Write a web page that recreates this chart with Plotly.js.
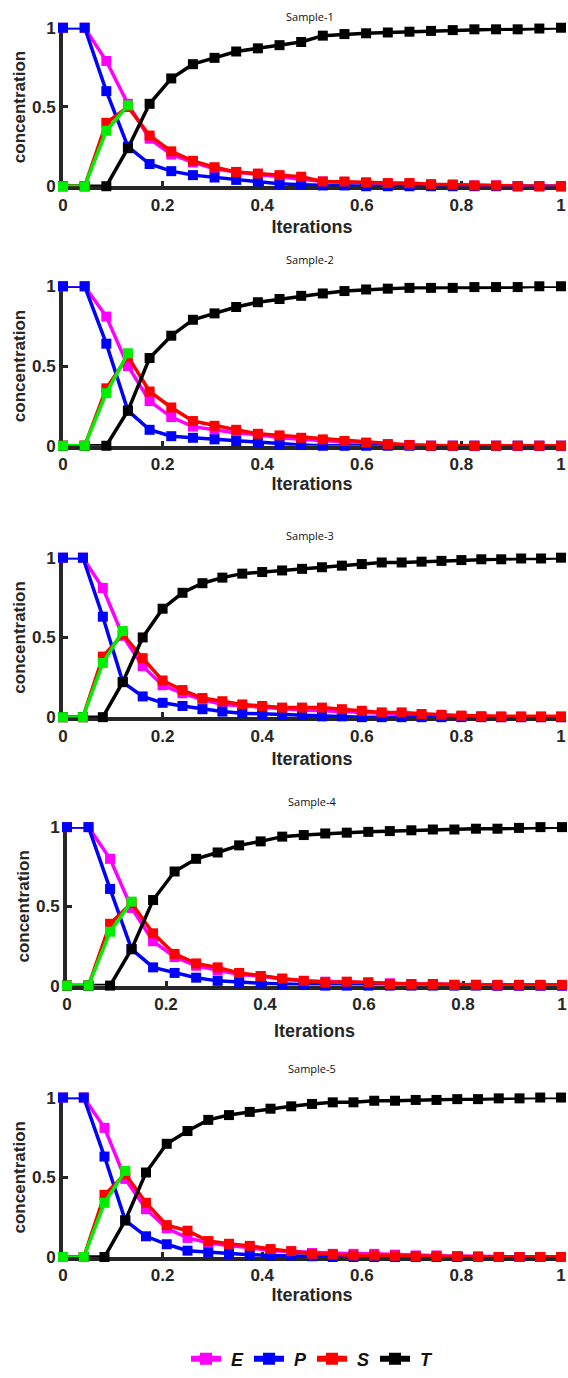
<!DOCTYPE html>
<html>
<head>
<meta charset="utf-8">
<script src="https://cdn.plot.ly/plotly-3.0.1.min.js"></script>
<style>
  html, body { margin: 0; padding: 0; background: #ffffff; }
  #chart { width: 568px; height: 1378px; }
</style>
</head>
<body>
<div id="chart"></div>
<script>
// Normalised iteration positions (runs with 24, 25 and 26 recorded steps)
const iter24 = [0, 0.0435, 0.0870, 0.1304, 0.1739, 0.2174, 0.2609, 0.3043, 0.3478, 0.3913, 0.4348, 0.4783,
                0.5217, 0.5652, 0.6087, 0.6522, 0.6957, 0.7391, 0.7826, 0.8261, 0.8696, 0.9130, 0.9565, 1];
const iter25 = [0, 0.0417, 0.0833, 0.125, 0.1667, 0.2083, 0.25, 0.2917, 0.3333, 0.375, 0.4167, 0.4583,
                0.5, 0.5417, 0.5833, 0.625, 0.6667, 0.7083, 0.75, 0.7917, 0.8333, 0.875, 0.9167, 0.9583, 1];
const iter26 = [0, 0.04, 0.08, 0.12, 0.16, 0.2, 0.24, 0.28, 0.32, 0.36, 0.4, 0.44, 0.48,
                0.52, 0.56, 0.6, 0.64, 0.68, 0.72, 0.76, 0.8, 0.84, 0.88, 0.92, 0.96, 1];

// Sample-1
const E1 = [1, 1, 0.79, 0.52, 0.30, 0.20, 0.15, 0.11, 0.09, 0.075, 0.06, 0.05, 0.03, 0.025, 0.02, 0.015, 0.015, 0.01, 0.01, 0.005, 0.005, 0, 0, 0];
const P1 = [1, 1, 0.60, 0.25, 0.14, 0.095, 0.07, 0.055, 0.04, 0.03, 0.015, 0.01, 0.005, 0.005, 0, 0, 0, 0, 0, 0, 0, 0, 0, 0];
const S1 = [0, 0, 0.40, 0.50, 0.32, 0.22, 0.16, 0.12, 0.09, 0.08, 0.07, 0.06, 0.03, 0.03, 0.025, 0.02, 0.02, 0.013, 0.01, 0.005, 0.005, 0, 0, 0];
const T1 = [0, 0, 0, 0.24, 0.52, 0.68, 0.77, 0.81, 0.85, 0.87, 0.89, 0.91, 0.95, 0.96, 0.965, 0.97, 0.975, 0.98, 0.985, 0.99, 0.99, 0.99, 0.995, 1];
const G1 = [0, 0, 0.35, 0.51];

// Sample-2
const E2 = [1, 1, 0.81, 0.50, 0.28, 0.18, 0.12, 0.10, 0.08, 0.07, 0.05, 0.04, 0.03, 0.02, 0.015, 0.01, 0.005, 0, 0, 0, 0, 0, 0, 0];
const P2 = [1, 1, 0.64, 0.22, 0.10, 0.06, 0.05, 0.04, 0.03, 0.02, 0.01, 0.005, 0, 0, 0, 0, 0, 0, 0, 0, 0, 0, 0, 0];
const S2 = [0, 0, 0.36, 0.56, 0.34, 0.24, 0.155, 0.125, 0.10, 0.075, 0.065, 0.05, 0.04, 0.03, 0.02, 0.01, 0.005, 0, 0, 0, 0, 0, 0, 0];
const T2 = [0, 0, 0, 0.22, 0.55, 0.69, 0.79, 0.83, 0.87, 0.90, 0.92, 0.94, 0.955, 0.97, 0.98, 0.985, 0.99, 0.99, 0.99, 0.995, 0.995, 0.995, 1, 1];
const G2 = [0, 0, 0.33, 0.58];

// Sample-3
const E3 = [1, 1, 0.81, 0.51, 0.32, 0.20, 0.15, 0.11, 0.08, 0.07, 0.06, 0.05, 0.045, 0.04, 0.035, 0.03, 0.02, 0.015, 0.01, 0.01, 0.005, 0.005, 0, 0, 0, 0];
const P3 = [1, 1, 0.63, 0.22, 0.13, 0.09, 0.07, 0.05, 0.035, 0.025, 0.02, 0.015, 0.015, 0.005, 0.005, 0, 0, 0, 0, 0, 0, 0, 0, 0, 0, 0];
const S3 = [0, 0, 0.38, 0.52, 0.37, 0.23, 0.17, 0.12, 0.10, 0.08, 0.07, 0.06, 0.06, 0.06, 0.05, 0.04, 0.03, 0.03, 0.02, 0.015, 0.01, 0.005, 0.005, 0.005, 0.005, 0.005];
const T3 = [0, 0, 0, 0.22, 0.50, 0.68, 0.78, 0.84, 0.875, 0.90, 0.91, 0.92, 0.93, 0.94, 0.95, 0.96, 0.97, 0.97, 0.975, 0.98, 0.985, 0.99, 0.99, 0.995, 0.995, 1];
const G3 = [0, 0, 0.34, 0.54];

// Sample-4
const E4 = [1, 1, 0.80, 0.49, 0.28, 0.18, 0.125, 0.095, 0.07, 0.06, 0.04, 0.03, 0.025, 0.02, 0.02, 0.015, 0.01, 0.01, 0.005, 0.005, 0, 0, 0, 0];
const P4 = [1, 1, 0.61, 0.23, 0.115, 0.08, 0.05, 0.03, 0.02, 0.015, 0.01, 0.005, 0, 0, 0, 0, 0, 0, 0, 0, 0, 0, 0, 0];
const S4 = [0, 0, 0.39, 0.52, 0.33, 0.20, 0.14, 0.115, 0.08, 0.06, 0.045, 0.03, 0.02, 0.025, 0.02, 0.01, 0.01, 0.01, 0.005, 0.005, 0.005, 0.005, 0.005, 0.005];
const T4 = [0, 0, 0, 0.23, 0.54, 0.72, 0.80, 0.84, 0.885, 0.91, 0.94, 0.95, 0.96, 0.965, 0.97, 0.975, 0.98, 0.985, 0.985, 0.99, 0.99, 0.995, 1, 1];
const G4 = [0, 0, 0.34, 0.53];

// Sample-5
const E5 = [1, 1, 0.81, 0.49, 0.30, 0.18, 0.12, 0.09, 0.07, 0.06, 0.04, 0.035, 0.025, 0.02, 0.02, 0.02, 0.015, 0.01, 0.01, 0.005, 0.005, 0, 0, 0, 0];
const P5 = [1, 1, 0.63, 0.23, 0.13, 0.08, 0.04, 0.03, 0.02, 0.015, 0.01, 0.01, 0.005, 0, 0, 0, 0, 0, 0, 0, 0, 0, 0, 0, 0];
const S5 = [0, 0, 0.39, 0.52, 0.34, 0.20, 0.165, 0.10, 0.083, 0.07, 0.05, 0.037, 0.02, 0.017, 0.01, 0.01, 0.008, 0.005, 0.005, 0.005, 0, 0, 0, 0, 0];
const T5 = [0, 0, 0, 0.23, 0.53, 0.71, 0.79, 0.86, 0.89, 0.91, 0.93, 0.945, 0.96, 0.97, 0.97, 0.98, 0.98, 0.985, 0.985, 0.99, 0.99, 0.995, 0.995, 1, 1];
const G5 = [0, 0, 0.34, 0.54];

const sampleTitles = ['Sample-1', 'Sample-2', 'Sample-3', 'Sample-4', 'Sample-5'];
const seriesNames = ['E', 'P', 'S', 'T'];
const xTickVals = [0, 0.2, 0.4, 0.6, 0.8, 1];
const xTickText = ['0', '0.2', '0.4', '0.6', '0.8', '1'];
const yTickVals = [0, 0.5, 1];
const yTickText = ['0', '0.5', '1'];

const samples = [
  { x: iter24, E: E1, P: P1, S: S1, T: T1, G: G1 },
  { x: iter24, E: E2, P: P2, S: S2, T: T2, G: G2 },
  { x: iter26, E: E3, P: P3, S: S3, T: T3, G: G3 },
  { x: iter24, E: E4, P: P4, S: S4, T: T4, G: G4 },
  { x: iter25, E: E5, P: P5, S: S5, T: T5, G: G5 }
];

// Page geometry (pixels) of each plot frame, its heading and x-title gap
const W = 568, H = 1378;
const frames = [
  { left: 63, right: 561, top: 28,   bottom: 188,  headY: 17,   headX: 310, xStand: 8 },
  { left: 63, right: 561, top: 289,  bottom: 450,  headY: 262,  headX: 310, xStand: 4 },
  { left: 63, right: 561, top: 563,  bottom: 724,  headY: 541,  headX: 310, xStand: 9 },
  { left: 67, right: 562, top: 835,  bottom: 995,  headY: 809,  headX: 312, xStand: 12 },
  { left: 63, right: 561, top: 1108, bottom: 1269, headY: 1079, headX: 312, xStand: 5 }
];

const colors = { E: '#ff00ff', P: '#0000ff', S: '#ff0000', T: '#000000', G: '#00ee00' };
const axisColor = '#262626';
const tickFont = { family: 'Arial, "Liberation Sans", sans-serif', size: 17, color: axisColor, weight: 'bold' };
const xTitleFont = { family: 'Arial, "Liberation Sans", sans-serif', size: 18, color: axisColor, weight: 'bold' };
const yTitleFont = { family: 'Arial, "Liberation Sans", sans-serif', size: 17, color: axisColor, weight: 'bold' };

const traces = [];
const layout = {
  width: W, height: H,
  margin: { l: 0, r: 0, t: 0, b: 0 },
  paper_bgcolor: '#ffffff',
  plot_bgcolor: '#ffffff',
  showlegend: true,
  legend: {
    orientation: 'h',
    x: 312 / W, xanchor: 'center',
    y: 1 - 1372 / H, yanchor: 'middle',
    entrywidth: 18, entrywidthmode: 'pixels',
    font: { family: 'Arial, "Liberation Sans", sans-serif', size: 18, color: '#111111', weight: 'bold', style: 'italic' },
    bgcolor: 'rgba(0,0,0,0)',
    traceorder: 'normal'
  },
  annotations: []
};

samples.forEach((s, k) => {
  const f = frames[k];
  const n = k + 1;
  const xa = 'x' + (n === 1 ? '' : n);
  const ya = 'y' + (n === 1 ? '' : n);

  ['E', 'P', 'S', 'T', 'G'].forEach(key => {
    const ys = s[key];
    traces.push({
      type: 'scatter', mode: 'lines+markers',
      x: s.x.slice(0, ys.length), y: ys,
      xaxis: xa, yaxis: ya,
      name: key, showlegend: false, cliponaxis: false,
      line: { color: colors[key], width: 3.5 },
      marker: { color: colors[key], symbol: 'square', size: 10 },
      hoverinfo: 'x+y+name'
    });
  });

  layout['xaxis' + (n === 1 ? '' : n)] = {
    domain: [f.left / W, f.right / W],
    anchor: ya,
    range: [0, 1],
    tickvals: xTickVals, ticktext: xTickText,
    ticks: 'inside', ticklen: 5, tickwidth: 3, tickcolor: axisColor,
    tickfont: tickFont,
    ticklabeloverflow: 'allow',
    showline: true, linecolor: axisColor, linewidth: 4,
    showgrid: false, zeroline: false,
    layer: 'below traces',
    automargin: false,
    title: { text: 'Iterations', font: xTitleFont, standoff: f.xStand }
  };
  layout['yaxis' + (n === 1 ? '' : n)] = {
    domain: [1 - f.bottom / H, 1 - f.top / H],
    anchor: xa,
    range: [0, 1],
    tickvals: yTickVals, ticktext: yTickText,
    ticks: 'inside', ticklen: 5, tickwidth: 3, tickcolor: axisColor,
    tickfont: tickFont,
    ticklabeloverflow: 'allow',
    showline: true, linecolor: axisColor, linewidth: 4,
    showgrid: false, zeroline: false,
    layer: 'below traces',
    automargin: false,
    title: { text: 'concentration', font: yTitleFont, standoff: 3 }
  };

  layout.annotations.push({
    text: sampleTitles[k],
    xref: 'paper', yref: 'paper',
    x: f.headX / W, y: 1 - f.headY / H,
    xanchor: 'center', yanchor: 'middle',
    showarrow: false,
    font: { family: '"Open Sans", "Noto Sans", sans-serif', size: 11, color: '#111111' }
  });
});

// Legend keys (a no-break space sets the gap between swatch and letter)
seriesNames.forEach(key => {
  traces.push({
    type: 'scatter', mode: 'lines+markers',
    x: [null], y: [null],
    name: '\u00a0' + key, showlegend: true,
    line: { color: colors[key], width: 6 },
    marker: { color: colors[key], symbol: 'square', size: 12 },
    hoverinfo: 'skip'
  });
});

Plotly.newPlot('chart', traces, layout, { displayModeBar: false, staticPlot: true });
</script>
</body>
</html>
